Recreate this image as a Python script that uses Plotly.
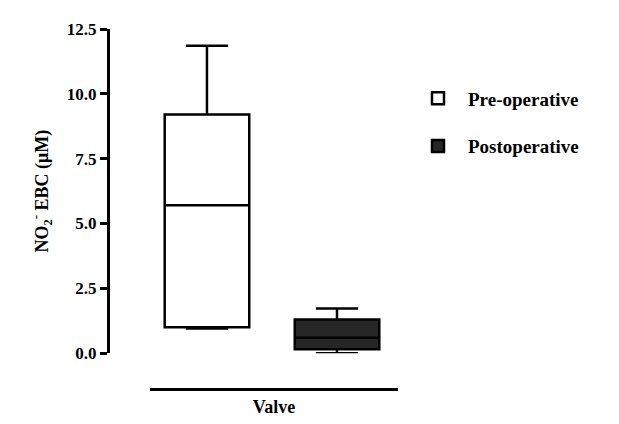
import plotly.graph_objects as go

groups = ["Pre-operative", "Postoperative"]
positions = [0, 1]
lower_fence = [0.95, 0.0]
q1_vals = [1.0, 0.15]
median_vals = [5.7, 0.6]
q3_vals = [9.2, 1.3]
upper_fence = [11.85, 1.72]
fill_colors = ["white", "#262626"]
y_ticks = [0.0, 2.5, 5.0, 7.5, 10.0, 12.5]

serif = "Liberation Serif, Times New Roman, serif"

fig = go.Figure()
for i, name in enumerate(groups):
    fig.add_trace(go.Box(
        name="<b>" + name + "</b>",
        x=[positions[i]],
        lowerfence=[lower_fence[i]],
        q1=[q1_vals[i]],
        median=[median_vals[i]],
        q3=[q3_vals[i]],
        upperfence=[upper_fence[i]],
        width=0.65,
        whiskerwidth=0.5,
        fillcolor=fill_colors[i],
        line=dict(color="black", width=2.5),
        boxpoints=False,
        legendgroup=name,
    ))

fig.update_layout(
    width=619, height=424,
    margin=dict(l=100, r=19, t=19, b=43),
    paper_bgcolor="white", plot_bgcolor="white",
    showlegend=True,
    legend=dict(
        x=0.6, y=0.86, xanchor="left", yanchor="top",
        font=dict(family=serif, size=19, color="black"),
        traceorder="grouped", tracegroupgap=20,
        itemwidth=50,
        bgcolor="rgba(0,0,0,0)",
    ),
    xaxis=dict(
        domain=[0.084, 0.58],
        range=[-0.438, 1.469],
        anchor="free", position=0,
        showline=True, linecolor="black", linewidth=3,
        showticklabels=False, ticks="", showgrid=False, zeroline=False,
        title=dict(text="<b>Valve</b>", font=dict(family=serif, size=18, color="black"), standoff=10),
    ),
    yaxis=dict(
        domain=[0.0994, 1.0],
        range=[0, 12.5],
        anchor="free", position=0,
        showline=True, linecolor="black", linewidth=3,
        ticks="outside", ticklen=7, tickwidth=3, tickcolor="black",
        tickvals=y_ticks,
        ticktext=["<b>%.1f</b>" % v for v in y_ticks],
        tickfont=dict(family=serif, size=17, color="black"),
        showgrid=False, zeroline=False,
        title=dict(text="<b>NO<sub>2</sub><sup>-</sup> EBC (μM)</b>",
                   font=dict(family=serif, size=18, color="black"), standoff=12),
    ),
)

fig.write_html("out.html")
